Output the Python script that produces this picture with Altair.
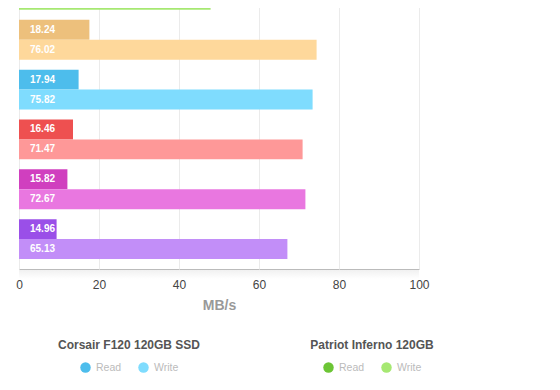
import altair as alt
import pandas as pd

# ---- data ----
drives = ["Patriot Inferno 120GB", "SSD B", "Corsair F120 120GB SSD", "SSD D", "SSD E", "SSD F"]
types = ["Read", "Write"]
# bar lengths as drawn (MB/s)
read_bar = [16.0, 17.6, 14.9, 13.5, 12.1, 9.4]
write_bar = [47.9, 74.4, 73.4, 70.9, 71.6, 67.1]
# labels printed inside the bars
read_label = ["16.00", "18.24", "17.94", "16.46", "15.82", "14.96"]
write_label = ["48.88", "76.02", "75.82", "71.47", "72.67", "65.13"]
read_colors = ["#6cc535", "#edc07c", "#4dbdec", "#ee5050", "#d03fbf", "#9a4fe8"]
write_colors = ["#a6e872", "#fed89b", "#7fdcfe", "#fe9898", "#e977e0", "#c28ef8"]
x_ticks = [0, 20, 40, 60, 80, 100]

rows = []
for i, d in enumerate(drives):
    rows.append(dict(drive=d, type="Read", value=read_bar[i], label=read_label[i], key=d + "|Read"))
    rows.append(dict(drive=d, type="Write", value=write_bar[i], label=write_label[i], key=d + "|Write"))
df = pd.DataFrame(rows)

keys = [d + "|" + t for d in drives for t in types]
colors = [c for pair in zip(read_colors, write_colors) for c in pair]

FONT = "Liberation Sans"
W, H = 400, 309

y_enc = alt.Y("drive:N", sort=drives, axis=None,
              scale=alt.Scale(paddingInner=0.2, paddingOuter=0.2))
yoff_enc = alt.YOffset("type:N", sort=types,
                       scale=alt.Scale(paddingInner=0, paddingOuter=0))

# faint shadow under the plot frame
shadow = alt.Chart(pd.DataFrame({"s": [0]})).mark_rect(
    color=alt.Gradient(gradient="linear", x1=0, x2=0, y1=0, y2=1,
                       stops=[alt.GradientStop(color="#f1f1f1", offset=0),
                              alt.GradientStop(color="#ffffff", offset=1)])
).encode(x=alt.value(0), x2=alt.value(W), y=alt.value(H + 1), y2=alt.value(H + 10))

bars = alt.Chart(df).mark_bar().encode(
    x=alt.X("value:Q", scale=alt.Scale(domain=[0, 100], nice=False),
            axis=alt.Axis(values=x_ticks, title="MB/s", grid=True, ticks=False, domain=False,
                          labelFlush=False, labelOverlap=False,
                          labelFont=FONT, labelFontSize=12, labelColor="#444", labelPadding=10,
                          gridColor="#ebebeb", titleFont=FONT, titleFontSize=14,
                          titleFontWeight="bold", titleColor="#999", titlePadding=8)),
    y=y_enc,
    yOffset=yoff_enc,
    color=alt.Color("key:N", scale=alt.Scale(domain=keys, range=colors), legend=None),
)

texts = alt.Chart(df).mark_text(align="left", baseline="middle", dx=11, color="white",
                                fontSize=10, fontWeight="bold", font=FONT).encode(
    x=alt.datum(0),
    y=y_enc,
    yOffset=yoff_enc,
    text="label:N",
)


def legend_layer(title, cols, lx, ly):
    return alt.Chart(df).transform_filter("false").mark_circle().encode(
        fill=alt.Fill("type:N", scale=alt.Scale(domain=types, range=cols),
                      legend=alt.Legend(title=title, orient="none", legendX=lx, legendY=ly,
                                        direction="horizontal", titleAnchor="middle",
                                        titleFont=FONT, titleFontSize=12, titleFontWeight="bold",
                                        titleColor="#555", titlePadding=10,
                                        labelFont=FONT, labelFontSize=10.5, labelColor="#bbb",
                                        symbolType="circle", symbolSize=110, symbolStrokeWidth=0,
                                        symbolOpacity=1,
                                        labelOffset=5, columnPadding=16, padding=0))
    )


leg_corsair = legend_layer("Corsair F120 120GB SSD", [read_colors[2], write_colors[2]], 39, 380)
leg_patriot = legend_layer("Patriot Inferno 120GB", [read_colors[0], write_colors[0]], 291, 380)

chart = alt.layer(shadow, bars, texts, leg_corsair, leg_patriot).resolve_scale(
    fill="independent"
).properties(
    width=W, height=H,
    autosize=alt.AutoSizeParams(type="none"),
    padding={"left": 11, "top": -48, "right": 120, "bottom": 110},
).configure_view(stroke="#bbb", strokeWidth=1)

chart.save("out.html", embed_options={"renderer": "svg", "actions": False})
